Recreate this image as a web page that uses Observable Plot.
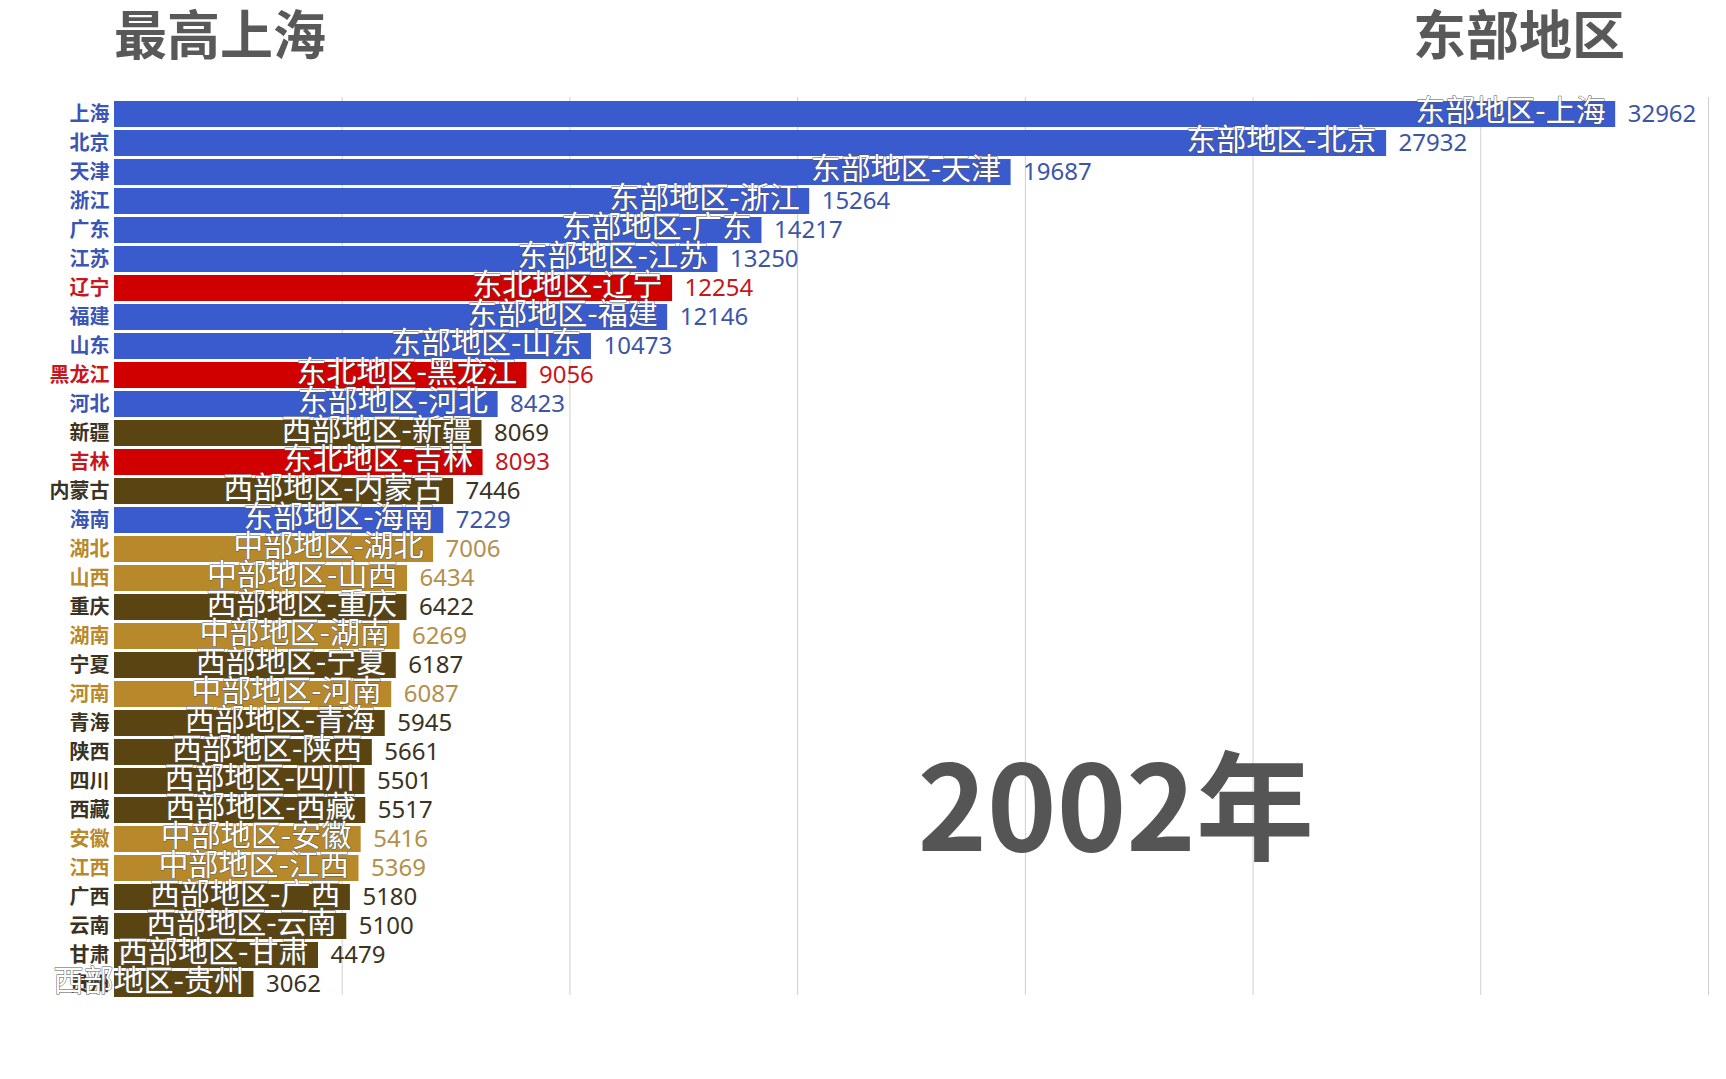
<!DOCTYPE html>
<html>
<head>
<meta charset="utf-8">
<script src="https://cdn.jsdelivr.net/npm/d3@7"></script>
<script src="https://cdn.jsdelivr.net/npm/@observablehq/plot@0.6"></script>
<style>
  html, body { margin: 0; padding: 0; background: #fff; }
  #wrap { width: 1726px; position: relative; font-family: "Noto Sans CJK SC", "Noto Sans", sans-serif; }
  #header { position: relative; height: 90px; }
  .title { position: absolute; top: 3px; font-size: 53px; line-height: 1.1; font-weight: bold; color: #595959; white-space: nowrap; }
  #t1 { left: 114px; }
  #t2 { left: 1413px; }
</style>
</head>
<body>
<div id="wrap">
  <div id="header">
    <div class="title" id="t1">最高上海</div>
    <div class="title" id="t2">东部地区</div>
  </div>
  <div id="chart"></div>
</div>
<script>
const provinces = ["上海","北京","天津","浙江","广东","江苏","辽宁","福建","山东","黑龙江","河北","新疆","吉林","内蒙古","海南","湖北","山西","重庆","湖南","宁夏","河南","青海","陕西","四川","西藏","安徽","江西","广西","云南","甘肃","贵州"];
const regions = ["东部地区","东部地区","东部地区","东部地区","东部地区","东部地区","东北地区","东部地区","东部地区","东北地区","东部地区","西部地区","东北地区","西部地区","东部地区","中部地区","中部地区","西部地区","中部地区","西部地区","中部地区","西部地区","西部地区","西部地区","西部地区","中部地区","中部地区","西部地区","西部地区","西部地区","西部地区"];
const values = [32962,27932,19687,15264,14217,13250,12254,12146,10473,9056,8423,8069,8093,7446,7229,7006,6434,6422,6269,6187,6087,5945,5661,5501,5517,5416,5369,5180,5100,4479,3062];
const gridTicks = [5000,10000,15000,20000,25000,30000,35000];
const yearLabel = ["2002年"];

const barColor = {"东部地区":"#3a5bcd","东北地区":"#d10000","西部地区":"#5a4412","中部地区":"#b8892b"};
const valueColor = {"东部地区":"#3d55a8","东北地区":"#c8161d","西部地区":"#3b3322","中部地区":"#b3904c"};
const tickColor = {"东部地区":"#3a55b5","东北地区":"#c8161d","西部地区":"#3b3322","中部地区":"#b8892b"};

const rows = provinces.map((p, i) => ({province: p, region: regions[i], value: values[i]}));
const regionOf = Object.fromEntries(rows.map(d => [d.province, d.region]));

const chart = Plot.plot({
  width: 1726,
  height: 989,
  marginLeft: 114,
  marginRight: 18,
  marginTop: 7,
  marginBottom: 77,
  x: {domain: [0, 35000], axis: null},
  y: {domain: provinces, padding: 0.1},
  color: {type: "identity"},
  style: {fontFamily: "'Noto Sans CJK SC', 'Noto Sans', sans-serif", background: "white", overflow: "visible"},
  marks: [
    Plot.gridX(gridTicks, {stroke: "#cfcfcf", strokeOpacity: 1, strokeWidth: 1, insetBottom: 7}),
    Plot.axisY({tickSize: 0, tickPadding: 5, fontSize: 20, fontWeight: "bold", label: null, fill: p => tickColor[regionOf[p]]}),
    Plot.barX(rows, {x: "value", y: "province", fill: d => barColor[d.region]}),
    Plot.text(rows, {x: "value", y: "province", text: d => `${d.region}-${d.province}`, textAnchor: "end", dx: -10, dy: -3, fill: "white", stroke: "#555", strokeWidth: 1, paintOrder: "stroke", fontSize: 30}),
    Plot.text(rows, {x: "value", y: "province", text: d => String(d.value), textAnchor: "start", dx: 12, fill: d => valueColor[d.region], fontSize: 24, fontFamily: "'Noto Sans', sans-serif"}),
    Plot.text(yearLabel, {frameAnchor: "top-left", dx: 803, dy: 753, lineAnchor: "bottom", textAnchor: "start", fontSize: 118, fontWeight: "bold", fill: "#555", fontFamily: "'Noto Sans CJK SC', 'Noto Sans', sans-serif"})
  ]
});
document.getElementById("chart").appendChild(chart);
</script>
</body>
</html>
